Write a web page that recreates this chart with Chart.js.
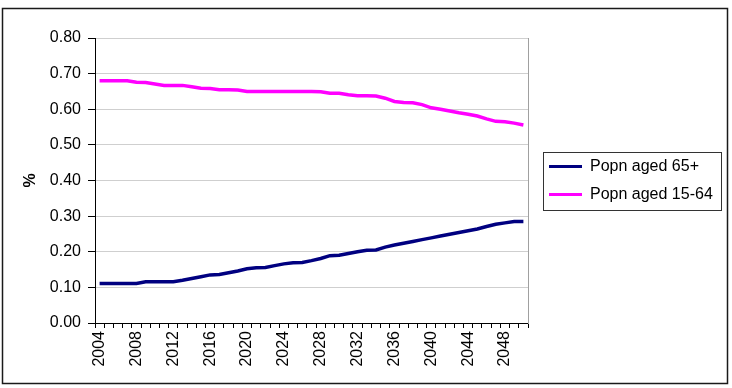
<!DOCTYPE html>
<html><head><meta charset="utf-8">
<script src="https://cdn.jsdelivr.net/npm/chart.js@4/dist/chart.umd.min.js"></script>
<style>html,body{margin:0;padding:0;background:#fff}canvas{display:block}</style>
</head><body>
<canvas id="c" width="732" height="388"></canvas>
<script>
const years = ['2004','2005','2006','2007','2008','2009','2010','2011','2012','2013','2014','2015','2016','2017','2018','2019','2020','2021','2022','2023','2024','2025','2026','2027','2028','2029','2030','2031','2032','2033','2034','2035','2036','2037','2038','2039','2040','2041','2042','2043','2044','2045','2046','2047','2048','2049','2050'];
const aged65plus = [0.111,0.111,0.111,0.111,0.111,0.116,0.116,0.116,0.116,0.120,0.125,0.130,0.135,0.136,0.141,0.146,0.152,0.155,0.156,0.161,0.166,0.169,0.170,0.175,0.181,0.189,0.190,0.195,0.200,0.204,0.205,0.213,0.219,0.224,0.229,0.234,0.239,0.244,0.249,0.254,0.259,0.264,0.271,0.277,0.281,0.285,0.285];
const aged15to64 = [0.680,0.680,0.680,0.680,0.676,0.675,0.671,0.667,0.667,0.667,0.663,0.659,0.658,0.655,0.655,0.654,0.650,0.650,0.650,0.650,0.650,0.650,0.650,0.650,0.649,0.645,0.645,0.641,0.638,0.638,0.637,0.631,0.622,0.619,0.618,0.613,0.604,0.600,0.595,0.590,0.586,0.581,0.573,0.566,0.565,0.561,0.556];
const seriesNames = ['Popn aged 65+','Popn aged 15-64'];
const yAxisTitle = '%';

const FONT = "'Liberation Sans', Arial, sans-serif";
const LEGEND_WIDTH = 185;

const framePlugin = {
  id: 'frame',
  beforeLayout(chart) {
    const lg = chart.legend;
    if (lg && !lg._fixedWidth) {
      const orig = lg.fit.bind(lg);
      lg.fit = function () { orig(); this.width = LEGEND_WIDTH; };
      lg._fixedWidth = true;
    }
  },
  beforeDraw(chart) {
    const ctx = chart.ctx;
    ctx.save();
    ctx.fillStyle = '#fff';
    ctx.fillRect(0, 0, chart.width, chart.height);
    ctx.strokeStyle = '#1a1a1a';
    ctx.lineWidth = 1.5;
    ctx.strokeRect(2.5, 8.5, 725, 375);
    ctx.restore();
  },
  afterDraw(chart) {
    const lg = chart.legend;
    if (!lg || !lg.legendHitBoxes || !lg.legendHitBoxes.length) return;
    const hb = lg.legendHitBoxes;
    const left = hb[0].left - 6;
    let right = 0;
    hb.forEach(h => { right = Math.max(right, h.left + h.width); });
    right += 8;
    const top = hb[0].top - 7;
    const last = hb[hb.length - 1];
    const bottom = last.top + last.height + 7;
    const ctx = chart.ctx;
    ctx.save();
    ctx.strokeStyle = '#333';
    ctx.lineWidth = 1;
    ctx.strokeRect(Math.round(left) + 0.5, Math.round(top) + 0.5, Math.round(right - left), Math.round(bottom - top));
    ctx.restore();
  }
};

new Chart(document.getElementById('c'), {
  type: 'line',
  data: {
    labels: years,
    datasets: [
      { label: seriesNames[0], data: aged65plus, borderColor: '#000080', backgroundColor: '#000080', borderWidth: 3.5, pointRadius: 0, tension: 0, yAxisID: 'y' },
      { label: seriesNames[1], data: aged15to64, borderColor: '#ff00ff', backgroundColor: '#ff00ff', borderWidth: 3.5, pointRadius: 0, tension: 0, yAxisID: 'y' }
    ]
  },
  options: {
    responsive: false,
    animation: false,
    devicePixelRatio: 1,
    layout: { padding: { left: 10, top: 38, right: 10, bottom: 14 } },
    plugins: {
      tooltip: { enabled: false },
      legend: {
        position: 'right',
        fullSize: false,
        labels: {
          color: '#000',
          font: { family: FONT, size: 16 },
          boxWidth: 33,
          boxHeight: 3,
          padding: 12,
          generateLabels(chart) {
            const items = Chart.defaults.plugins.legend.labels.generateLabels(chart);
            items.forEach(it => { it.lineWidth = 0; });
            return items;
          }
        }
      }
    },
    scales: {
      x: {
        type: 'category',
        offset: true,
        grid: { offset: true, drawOnChartArea: false, drawTicks: true, tickLength: 5, tickColor: '#000' },
        border: { color: '#000', width: 1 },
        ticks: {
          autoSkip: false,
          minRotation: 90,
          maxRotation: 90,
          padding: 3,
          color: '#000',
          font: { family: FONT, size: 16 },
          callback(v, i) { return i % 4 === 0 ? this.getLabelForValue(v) : ''; }
        },
        afterFit(scale) { scale.height = 51; }
      },
      y: {
        min: 0,
        max: 0.8,
        position: 'left',
        grid: { color: '#cfcfcf', tickColor: '#000', tickLength: 7 },
        border: { color: '#000', width: 1 },
        ticks: {
          stepSize: 0.1,
          padding: 7,
          color: '#000',
          font: { family: FONT, size: 16 },
          callback(v) { return Number(v).toFixed(2); }
        },
        title: { display: true, text: yAxisTitle, color: '#000', font: { family: FONT, size: 16, weight: 'bold' }, padding: { top: 11, bottom: 0 } },
        afterFit(scale) { scale.width = 85; }
      },
      y2: {
        type: 'linear',
        position: 'right',
        display: true,
        grid: { display: false, drawTicks: false },
        ticks: { display: false },
        border: { color: '#a0a0a0', width: 1 },
        afterFit(scale) { scale.width = 9; }
      }
    }
  },
  plugins: [framePlugin]
});
</script>
</body></html>
